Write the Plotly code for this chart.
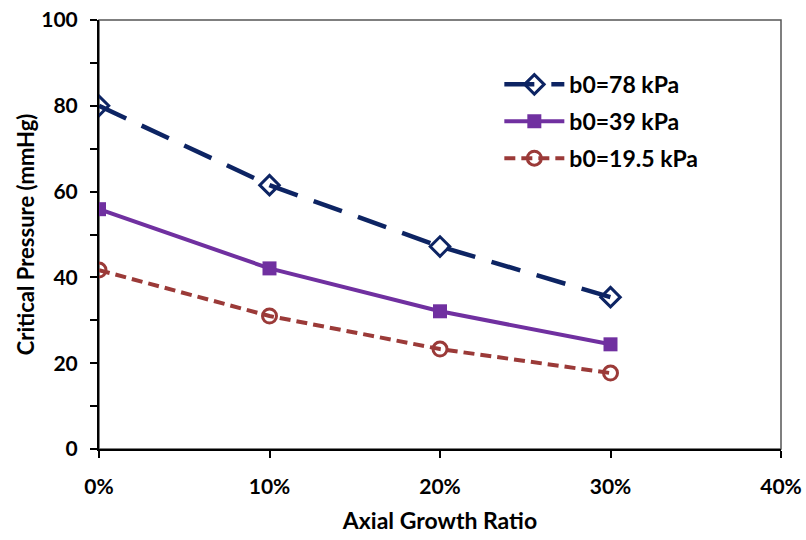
import plotly.graph_objects as go

x_vals = [0.0, 0.1, 0.2, 0.3]
series_names = ["b0=78 kPa", "b0=39 kPa", "b0=19.5 kPa"]
y_78 = [80.0, 61.5, 47.2, 35.4]
y_39 = [55.9, 42.1, 32.1, 24.4]
y_195 = [41.7, 31.0, 23.3, 17.7]
x_ticks = [0.0, 0.1, 0.2, 0.3, 0.4]
x_tick_labels = ["0%", "10%", "20%", "30%", "40%"]

FONT = "Lato"

fig = go.Figure()
fig.add_trace(go.Scatter(
    x=x_vals, y=y_78, name=series_names[0], mode="lines+markers", legendgroup="a",
    line=dict(color="#0D2463", width=4.5, dash="30px,17px"),
    marker=dict(symbol="diamond-open", size=15, color="#0D2463", line=dict(width=3, color="#0D2463")),
))
fig.add_trace(go.Scatter(
    x=x_vals, y=y_39, name=series_names[1], mode="lines+markers", legendgroup="b",
    line=dict(color="#7030A0", width=4),
    marker=dict(symbol="square", size=14, color="#7030A0"),
))
fig.add_trace(go.Scatter(
    x=x_vals, y=y_195, name=series_names[2], mode="lines+markers", legendgroup="c",
    line=dict(color="#9B3A38", width=4, dash="11px,6px"),
    marker=dict(symbol="circle-open", size=14, color="#9B3A38", line=dict(width=3, color="#9B3A38")),
))

fig.add_shape(type="rect", xref="paper", yref="paper", x0=0, y0=0, x1=1, y1=1,
              line=dict(color="#555555", width=1.5), layer="below")

fig.update_layout(
    width=806, height=540,
    margin=dict(l=99, r=25, t=20, b=91, autoexpand=False),
    paper_bgcolor="white", plot_bgcolor="white",
    font=dict(family=FONT, size=20, color="black", weight="bold"),
    showlegend=True,
    legend=dict(x=0.587, y=0.90, xanchor="left", yanchor="top",
                font=dict(family=FONT, size=23, color="black", weight="bold"),
                bgcolor="rgba(0,0,0,0)", itemwidth=60, tracegroupgap=4),
    xaxis=dict(
        range=[0, 0.4], tickvals=x_ticks, ticktext=x_tick_labels, automargin=False,
        showgrid=False, zeroline=False, showline=True, linecolor="black", linewidth=2,
        ticks="outside", ticklen=7, tickwidth=1.5, tickcolor="black",
        ticklabelstandoff=11,
        tickfont=dict(family=FONT, size=21, weight="bold"),
        title=dict(text="Axial Growth Ratio", font=dict(family=FONT, size=23, weight="bold"), standoff=16),
    ),
    yaxis=dict(
        range=[0, 100], dtick=20, tick0=0, automargin=False,
        showgrid=False, zeroline=False, showline=True, linecolor="black", linewidth=2,
        ticks="outside", ticklen=7, tickwidth=1.5, tickcolor="black",
        ticklabelstandoff=8,
        minor=dict(dtick=10, ticks="outside", ticklen=7, tickwidth=1.5, tickcolor="black", showgrid=False),
        tickfont=dict(family=FONT, size=21, weight="bold"),
        title=dict(text="Critical Pressure (mmHg)", font=dict(family=FONT, size=22, weight="bold"), standoff=1),
    ),
)

fig.write_html("out.html")
